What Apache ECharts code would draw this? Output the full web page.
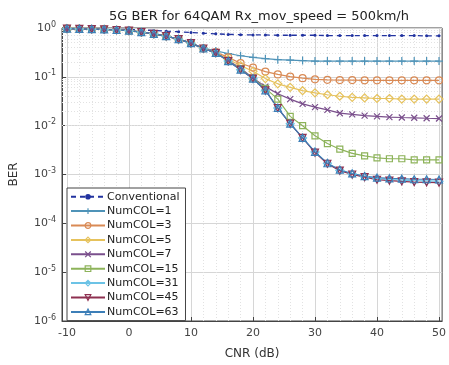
<!DOCTYPE html>
<html>
<head>
<meta charset="utf-8">
<script src="https://cdn.jsdelivr.net/npm/echarts@6/dist/echarts.min.js"></script>
<style>html,body{margin:0;padding:0;background:#fff;}#c{width:449px;height:365px;}</style>
</head>
<body>
<div id="c"></div>
<script>
const cnr = [-10,-8,-6,-4,-2,0,2,4,6,8,10,12,14,16,18,20,22,24,26,28,30,32,34,36,38,40,42,44,46,48,50];
const conventional = [0.97,0.97,0.96,0.95,0.94,0.93,0.91,0.89,0.86,0.84,0.81,0.78,0.76,0.74,0.73,0.72,0.72,0.71,0.71,0.71,0.71,0.70,0.70,0.70,0.70,0.70,0.70,0.70,0.70,0.69,0.69];
const numcol1 = [0.97,0.96,0.95,0.94,0.91,0.88,0.82,0.76,0.68,0.59,0.49,0.39,0.34,0.30,0.27,0.25,0.235,0.225,0.22,0.215,0.21,0.21,0.21,0.21,0.21,0.21,0.21,0.21,0.21,0.21,0.21];
const numcol3 = [0.97,0.96,0.95,0.94,0.91,0.88,0.82,0.76,0.68,0.59,0.49,0.38,0.32,0.25,0.19,0.155,0.128,0.112,0.101,0.094,0.089,0.087,0.086,0.086,0.085,0.085,0.085,0.085,0.085,0.085,0.085];
const numcol5 = [0.97,0.96,0.95,0.94,0.91,0.88,0.82,0.76,0.68,0.59,0.49,0.38,0.31,0.23,0.17,0.13,0.092,0.072,0.061,0.052,0.047,0.043,0.040,0.038,0.037,0.036,0.036,0.035,0.035,0.035,0.035];
const numcol7 = [0.97,0.96,0.95,0.94,0.91,0.88,0.82,0.76,0.68,0.59,0.49,0.38,0.31,0.215,0.15,0.095,0.063,0.045,0.035,0.028,0.024,0.021,0.018,0.017,0.016,0.0155,0.015,0.0147,0.0145,0.0142,0.014];
const numcol15 = [0.97,0.96,0.95,0.94,0.91,0.88,0.82,0.76,0.68,0.59,0.49,0.38,0.31,0.21,0.145,0.094,0.058,0.035,0.0155,0.0100,0.0062,0.0043,0.0033,0.0027,0.0024,0.0022,0.0021,0.0021,0.0020,0.0020,0.0020];
const numcol31 = [0.97,0.96,0.95,0.94,0.91,0.88,0.82,0.76,0.68,0.59,0.49,0.38,0.31,0.21,0.14,0.092,0.053,0.023,0.011,0.0056,0.0029,0.0017,0.00122,0.00102,0.0009,0.00082,0.00079,0.00077,0.00075,0.00074,0.00073];
const numcol45 = [0.97,0.96,0.95,0.94,0.91,0.88,0.82,0.76,0.68,0.59,0.49,0.38,0.31,0.21,0.14,0.092,0.053,0.023,0.011,0.0056,0.0028,0.00166,0.0012,0.00100,0.00088,0.00078,0.00075,0.00072,0.00070,0.00069,0.00068];
const numcol63 = [0.97,0.96,0.95,0.94,0.91,0.88,0.82,0.76,0.68,0.59,0.49,0.38,0.31,0.21,0.14,0.092,0.053,0.023,0.011,0.0056,0.0029,0.0017,0.00125,0.00105,0.00093,0.00086,0.00083,0.00082,0.00080,0.00080,0.00079];
const legendNames = ['Conventional','NumCOL=1','NumCOL=3','NumCOL=5','NumCOL=7','NumCOL=15','NumCOL=31','NumCOL=45','NumCOL=63'];
const xTicks = [-10,0,10,20,30,40,50];
const xMinor = [-8,-6,-4,-2,2,4,6,8,12,14,16,18,22,24,26,28,32,34,36,38,42,44,46,48];
const yMinor = [];
[-6,-5,-4,-3,-2,-1].forEach(function(k){ for (let m=2;m<=9;m++) yMinor.push(m*Math.pow(10,k)); });

const chart = echarts.init(document.getElementById('c'), null, {renderer:'canvas'});
const FONT = 'DejaVu Sans';
const pair = (ys) => cnr.map((x,i)=>[x, ys[i]]);
const hollow = (c) => ({color:'rgba(255,255,255,0)', borderColor:c, borderWidth:1.2});
function mk(name, ys, color, symbol, size) {
  return {
    name: name, type:'line', data: pair(ys), color: color,
    symbol: symbol, symbolSize: size, showAllSymbol: true,
    lineStyle: {color: color, width: 1.2},
    itemStyle: hollow(color),
    emphasis: {disabled: true}, animation: false, z: 3
  };
}
const PLUS = 'path://M5,0L5,10M0,5L10,5';
const CROSS = 'path://M0,0L10,10M10,0L0,10';
const TDOWN = 'path://M0,0L10,0L5,9Z';

const colors = ['#2233a0','#4f93b8','#d98a55','#e6c25c','#7a4f8c','#8db35a','#6cc3e6','#8e3050','#3d7fb8'];
const series = [
  {
    name: 'Conventional', type:'line', data: pair(conventional), color:colors[0],
    symbol:'circle', symbolSize: 3, showAllSymbol: true,
    lineStyle:{color:colors[0], width:1.3, type:[5,4]},
    itemStyle:{color:colors[0]}, emphasis:{disabled:true}, animation:false, z:3
  },
  mk('NumCOL=1', numcol1, colors[1], PLUS, 8),
  mk('NumCOL=3', numcol3, colors[2], 'circle', 7),
  mk('NumCOL=5', numcol5, colors[3], 'diamond', 8),
  mk('NumCOL=7', numcol7, colors[4], CROSS, 6),
  mk('NumCOL=15', numcol15, colors[5], 'rect', 6),
  mk('NumCOL=31', numcol31, colors[6], 'diamond', 8),
  mk('NumCOL=45', numcol45, colors[7], TDOWN, 7),
  mk('NumCOL=63', numcol63, colors[8], 'triangle', 7),
  {
    name:'_grid', type:'line', data: [], silent:true, animation:false,
    markLine: {
      silent:true, symbol:'none', animation:false, z:1,
      label:{show:false},
      lineStyle:{color:'#e2e2e2', width:1, type:[1,2]},
      emphasis:{disabled:true},
      data: yMinor.map(v=>({yAxis:v})).concat(xMinor.map(v=>({xAxis:v})))
    }
  }
];

chart.setOption({
  backgroundColor:'#fff',
  animation:false,
  title:{
    text:'5G BER for 64QAM Rx_mov_speed = 500km/h',
    left: 254, top: 5, textAlign:'center',
    textStyle:{fontFamily:FONT, fontSize:13, fontWeight:'normal', color:'#222'}
  },
  grid:{left:60, right:3, top:28, bottom:39, show:true, borderColor:'#444', borderWidth:1, backgroundColor:'rgba(0,0,0,0)'},
  legend:{
    orient:'vertical', left:67, top:188,
    data: legendNames.map(function(n,i){
      return i === 0 ? {name:n, itemStyle:{color:colors[0]}} :
        {name:n, itemStyle:{color:'rgba(255,255,255,0)', borderColor:colors[i], borderWidth:1.2}};
    }),
    itemWidth:34, itemHeight:7, itemGap:1,
    padding:[2,6,2,3],
    borderColor:'#444', borderWidth:1, backgroundColor:'#fff',
    textStyle:{fontFamily:FONT, fontSize:11, color:'#222', lineHeight:13.4, padding:[0,0,0,-3]},
    selectedMode:false
  },
  xAxis:{
    type:'value', min:-10.8, max:50.5,
    name:'CNR (dB)', nameLocation:'middle', nameGap:27,
    nameTextStyle:{fontFamily:FONT, fontSize:12, color:'#333'},
    axisLine:{show:true, onZero:false, lineStyle:{color:'#444'}},
    axisTick:{show:true, inside:true, length:4, customValues:xTicks, lineStyle:{color:'#444'}},
    axisLabel:{customValues:xTicks, fontFamily:FONT, fontSize:11, color:'#444', margin:7},
    splitLine:{show:true, lineStyle:{color:'#d6d6d6', width:1}}
  },
  yAxis:{
    type:'log', logBase:10, min:1e-6, max:1,
    name:'BER', nameLocation:'middle', nameGap:42,
    nameTextStyle:{fontFamily:FONT, fontSize:12, color:'#333'},
    axisLine:{show:true, onZero:false, lineStyle:{color:'#444'}},
    axisTick:{show:true, inside:true, length:4, lineStyle:{color:'#444'}},
    axisLabel:{
      fontFamily:FONT, color:'#444', margin:6,
      formatter:function(v){ return '{b|10}{s|' + Math.round(Math.log10(v)) + '}'; },
      rich:{ b:{fontFamily:FONT, fontSize:11, color:'#444'}, s:{fontFamily:FONT, fontSize:8, color:'#444', padding:[0,0,7,0]} }
    },
    splitLine:{show:true, lineStyle:{color:'#d6d6d6', width:1}}
  },
  series: series
});
</script>
</body>
</html>
